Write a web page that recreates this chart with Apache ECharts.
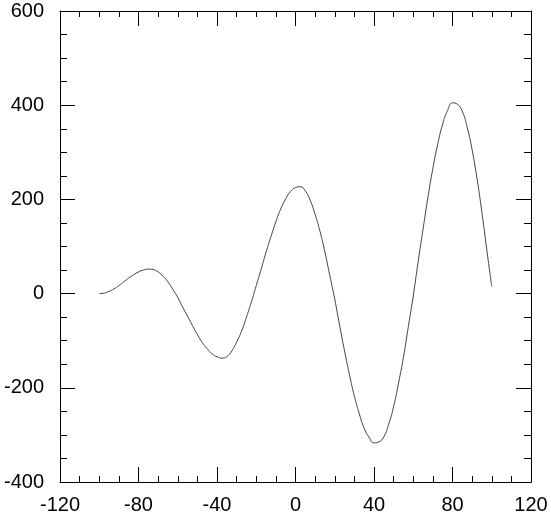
<!DOCTYPE html>
<html>
<head>
<meta charset="utf-8">
<script src="https://cdn.jsdelivr.net/npm/echarts@6/dist/echarts.min.js"></script>
<style>
html,body{margin:0;padding:0;background:#fff;}
#chart{width:551px;height:517px;}
</style>
</head>
<body>
<div id="chart"></div>
<script>
// Data (x every 2.5 units)
var xValues = [-100,-97.5,-95,-92.5,-90,-87.5,-85,-82.5,-80,-77.5,-75,-72.5,-70,-67.5,-65,-62.5,-60,-57.5,-55,-52.5,-50,-47.5,-45,-42.5,-40,-37.5,-35,-32.5,-30,-27.5,-25,-22.5,-20,-17.5,-15,-12.5,-10,-7.5,-5,-2.5,0,2.5,5,7.5,10,12.5,15,17.5,20,22.5,25,27.5,30,32.5,35,37.5,40,42.5,45,47.5,50,52.5,55,57.5,60,62.5,65,67.5,70,72.5,75,77.5,80,82.5,85,87.5,90,92.5,95,97.5,100];
var yValues = [0,1,5,10,17,25,33,40,46,50,52,51,46,37,25,9,-8,-29,-48,-68,-87,-104,-117,-128,-134,-137,-134,-122,-103,-80,-50,-18,17,52,88,121,153,180,201,217,225,227,218,198,168,132,88,38,-12,-68,-122,-172,-218,-255,-286,-305,-317,-315,-304,-277,-240,-190,-135,-70,-5,68,137,205,266,318,360,389,405,402,387,353,305,244,172,92,15];
var xTicks = {min:-120, max:120, step:40};
var yTicks = {min:-400, max:600, step:200};

var points = xValues.map(function(x,i){return [x, yValues[i]];});

var font = 'Liberation Sans, Arial, Helvetica, sans-serif';
function xAxisCfg(pos, showLabel){
  return {
    type:'value', position:pos, min:xTicks.min, max:xTicks.max, interval:xTicks.step,
    axisLine:{show:true, onZero:false, lineStyle:{color:'#000', width:1}},
    axisTick:{show:true, inside:true, length:15, lineStyle:{color:'#000', width:1}},
    minorTick:{show:true, splitNumber:4, length:6, lineStyle:{color:'#000', width:1}},
    axisLabel:{show:showLabel, color:'#000', fontSize:20, fontFamily:font, margin:13},
    splitLine:{show:false}, minorSplitLine:{show:false}
  };
}
function yAxisCfg(pos, showLabel){
  return {
    type:'value', position:pos, min:yTicks.min, max:yTicks.max, interval:yTicks.step,
    axisLine:{show:true, onZero:false, lineStyle:{color:'#000', width:1}},
    axisTick:{show:true, inside:true, length:15, lineStyle:{color:'#000', width:1}},
    minorTick:{show:true, splitNumber:4, length:7, lineStyle:{color:'#000', width:1}},
    axisLabel:{show:showLabel, color:'#000', fontSize:20, fontFamily:font, margin:16},
    splitLine:{show:false}, minorSplitLine:{show:false}
  };
}

var chart = echarts.init(document.getElementById('chart'), null, {renderer:'canvas'});
chart.setOption({
  animation:false,
  backgroundColor:'#fff',
  grid:{left:60, top:11, right:20, bottom:35, containLabel:false},
  xAxis:[xAxisCfg('bottom', true), xAxisCfg('top', false)],
  yAxis:[yAxisCfg('left', true), yAxisCfg('right', false)],
  series:[{
    type:'line', xAxisIndex:0, yAxisIndex:0,
    data:points, smooth:0.5, showSymbol:false, symbol:'none',
    lineStyle:{color:'#444', width:1}
  }]
});
</script>
</body>
</html>
